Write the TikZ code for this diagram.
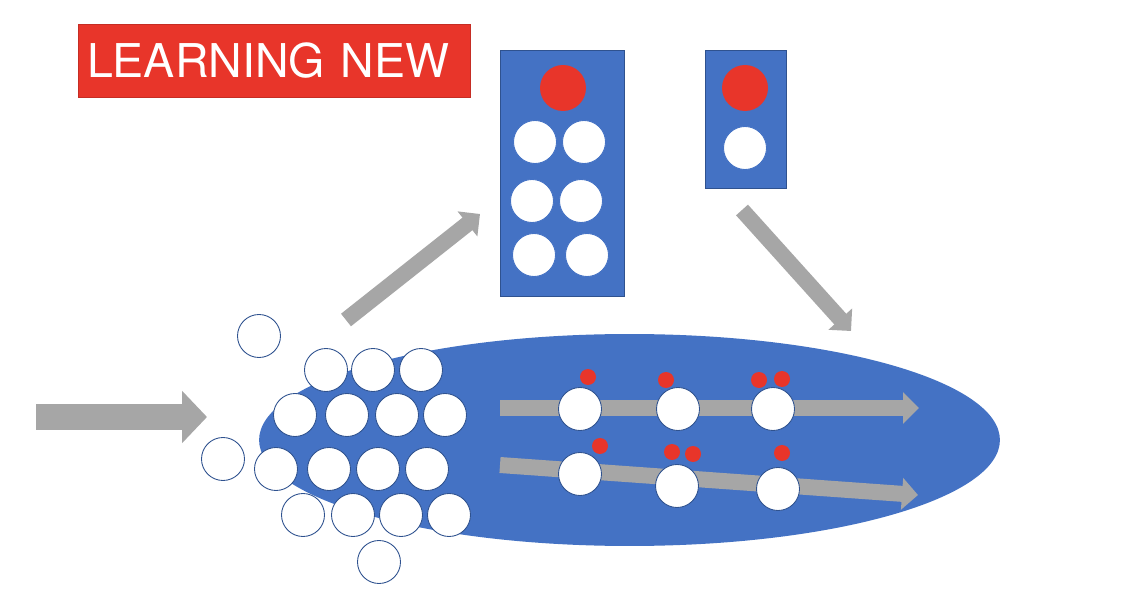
\documentclass[tikz,border=0pt]{standalone}
\usepackage{fontspec}
\setmainfont{TeX Gyre Heros}
\usetikzlibrary{arrows.meta,shapes.geometric}
\definecolor{boxblue}{HTML}{4472C4}
\definecolor{tagred}{HTML}{E8352A}
\definecolor{flowgray}{HTML}{A6A6A6}
\definecolor{rimblue}{HTML}{2F528F}

\begin{document}
\begin{tikzpicture}[x=0.02cm, y=-0.02cm,
  ball/.style={circle, fill=white, draw=rimblue, line width=0.5pt, minimum size=0.86cm, inner sep=0pt},
  token/.style={circle, fill=tagred, minimum size=0.32cm, inner sep=0pt},
  bigtoken/.style={circle, fill=tagred, minimum size=0.92cm, inner sep=0pt},
  flow/.style={flowgray, line width=0.32cm, -{Triangle[length=0.32cm, width=0.62cm]}}]
  \useasboundingbox[fill=white] (0,0) rectangle (1140,601);

  % Title
  \node[fill=tagred, draw=tagred!85!black, line width=0.4pt, minimum height=1.46cm, inner xsep=0.18cm,
        text width=7.48cm, align=left, text=white, font=\fontsize{26.5}{30}\selectfont] (title) at (274,60.5) {LEARNING NEW};

  % Big box
  \node[fill=boxblue, draw=rimblue, line width=0.4pt, minimum width=2.48cm, minimum height=4.92cm, inner sep=0pt] (bigbox) at (562,173) {};
  \node[bigtoken] (bigred) at (563,88) {};
  \node[ball, draw=boxblue] (b1) at (535,142) {};
  \node[ball, draw=boxblue] (b2) at (584,142) {};
  \node[ball, draw=boxblue] (b3) at (532,201) {};
  \node[ball, draw=boxblue] (b4) at (581,201) {};
  \node[ball, draw=boxblue] (b5) at (534,255) {};
  \node[ball, draw=boxblue] (b6) at (587,255) {};

  % Small box
  \node[fill=boxblue, draw=rimblue, line width=0.4pt, minimum width=1.62cm, minimum height=2.76cm, inner sep=0pt] (smallbox) at (745.5,119) {};
  \node[bigtoken] (smallred) at (745,88) {};
  \node[ball, draw=boxblue] (s1) at (745,148) {};

  % Arrows between
  \coordinate (upstart) at (346,320);
  \coordinate (upend) at (480,214);
  \draw[flow] (upstart) -- (upend);
  \coordinate (downstart) at (742,210);
  \coordinate (downend) at (851,331);
  \draw[flow] (downstart) -- (downend);

  % Input arrow
  \coordinate (instart) at (36,417);
  \coordinate (inend) at (207,417);
  \draw[flowgray, line width=0.52cm, -{Triangle[length=0.5cm, width=1.02cm]}] (instart) -- (inend);

  % Pool
  \node[ellipse, fill=boxblue, minimum width=14.82cm, minimum height=4.24cm, inner sep=0pt] (pool) at (629.5,440) {};

  % Flow arrows
  \coordinate (topstart) at (500,408);
  \coordinate (topend) at (919,408);
  \draw[flow] (topstart) -- (topend);
  \coordinate (lowstart) at (500,465);
  \coordinate (lowend) at (918,495);
  \draw[flow] (lowstart) -- (lowend);

  % Loose balls
  \node[ball] (l1) at (259,336) {};
  \node[ball] (l2) at (223,459) {};
  \node[ball] (l3) at (379,562) {};

  % Cluster
  \node[ball] (c1) at (326,370) {};
  \node[ball] (c2) at (373,370) {};
  \node[ball] (c3) at (421,370) {};
  \node[ball] (c4) at (295,415) {};
  \node[ball] (c5) at (347,415) {};
  \node[ball] (c6) at (397,415) {};
  \node[ball] (c7) at (445,415) {};
  \node[ball] (c8) at (276,469) {};
  \node[ball] (c9) at (329,469) {};
  \node[ball] (c10) at (378,469) {};
  \node[ball] (c11) at (427,469) {};
  \node[ball] (c12) at (303,515) {};
  \node[ball] (c13) at (353,515) {};
  \node[ball] (c14) at (401,515) {};
  \node[ball] (c15) at (449,515) {};

  % Top row
  \node[ball] (t1) at (580,409) {};
  \node[ball] (t2) at (678,409) {};
  \node[ball] (t3) at (773,409) {};
  \node[token] (tr1) at (588,377) {};
  \node[token] (tr2) at (666,380) {};
  \node[token] (tr3) at (759,380) {};
  \node[token] (tr4) at (782,379) {};

  % Lower row
  \node[ball] (w1) at (580,474) {};
  \node[ball] (w2) at (677,486) {};
  \node[ball] (w3) at (778,489) {};
  \node[token] (wr1) at (600,446) {};
  \node[token] (wr2) at (672,452) {};
  \node[token] (wr3) at (693,454) {};
  \node[token] (wr4) at (782,453) {};

\end{tikzpicture}
\end{document}
